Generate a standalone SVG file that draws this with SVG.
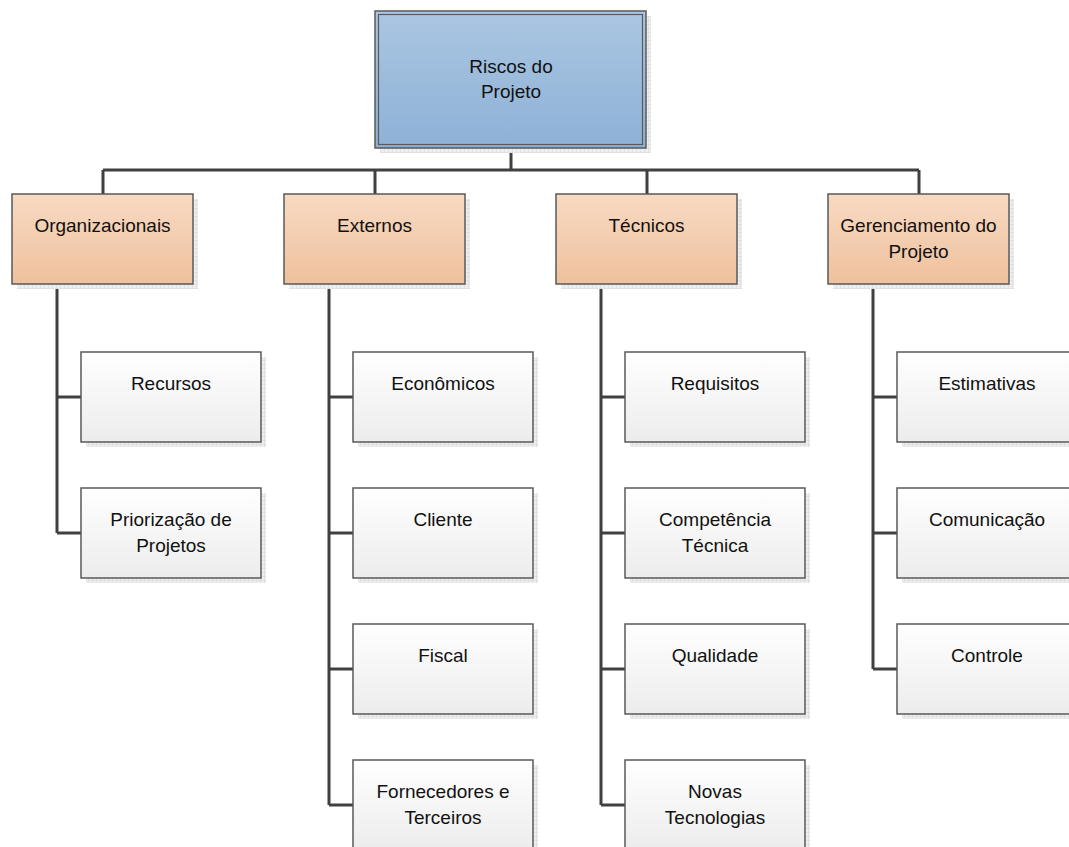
<svg xmlns="http://www.w3.org/2000/svg" width="1069" height="847" viewBox="0 0 1069 847">
<defs>
<linearGradient id="gBlue" x1="0" y1="0" x2="0" y2="1"><stop offset="0" stop-color="#abc6e2"/><stop offset="1" stop-color="#8db1d6"/></linearGradient>
<linearGradient id="gOrange" x1="0" y1="0" x2="0" y2="1"><stop offset="0" stop-color="#f8dac3"/><stop offset="1" stop-color="#efc19d"/></linearGradient>
<linearGradient id="gLeaf" x1="0" y1="0" x2="0" y2="1"><stop offset="0" stop-color="#ffffff"/><stop offset="1" stop-color="#ececec"/></linearGradient>
<pattern id="hatch" width="4" height="4" patternUnits="userSpaceOnUse"><rect width="4" height="4" fill="#eeeeee"/><path d="M0 0H4M0 0V4" stroke="#d6d6d6" stroke-width="1"/></pattern>
</defs>
<style>
.sh{fill:url(#hatch)}
.box{stroke:#5a5a5a;stroke-width:1.5}
.root{fill:url(#gBlue)}
.l1{fill:url(#gOrange)}
.leaf{fill:url(#gLeaf)}
.inner{fill:none;stroke:#5a5a5a;stroke-width:1.2}
text{font-family:"Liberation Sans",Arial,sans-serif;font-size:19px;fill:#111;text-anchor:middle}
.con{fill:none;stroke:#404040;stroke-width:3}
</style>
<g id="connectors" class="con">
<path d="M511 148V170M103 170H919M103 170V194M375 170V194M647 170V194M919 170V194"/>
<path d="M57 284V533M57 397H81M57 533H81"/>
<path d="M329 284V805M329 397H353M329 533H353M329 669H353M329 805H353"/>
<path d="M601 284V805M601 397H625M601 533H625M601 669H625M601 805H625"/>
<path d="M873 284V669M873 397H897M873 533H897M873 669H897"/>
</g>
<g id="root">
<rect class="sh" x="380" y="16" width="271" height="137"/>
<rect class="box root" x="375" y="11" width="271" height="137"/>
<rect class="inner" x="378.5" y="14.5" width="264" height="130"/>
<text x="511" y="73">Riscos do</text>
<text x="511" y="98">Projeto</text>
</g>
<g id="n-org">
<rect class="sh" x="17" y="199" width="181" height="90"/>
<rect class="box l1" x="12" y="194" width="181" height="90"/>
<text x="102.5" y="232">Organizacionais</text>
</g>
<g id="n-ext">
<rect class="sh" x="289" y="199" width="181" height="90"/>
<rect class="box l1" x="284" y="194" width="181" height="90"/>
<text x="374.5" y="232">Externos</text>
</g>
<g id="n-tec">
<rect class="sh" x="561" y="199" width="181" height="90"/>
<rect class="box l1" x="556" y="194" width="181" height="90"/>
<text x="646.5" y="232">Técnicos</text>
</g>
<g id="n-ger">
<rect class="sh" x="833" y="199" width="181" height="90"/>
<rect class="box l1" x="828" y="194" width="181" height="90"/>
<text x="918.5" y="232">Gerenciamento do</text>
<text x="918.5" y="258">Projeto</text>
</g>
<g id="n-recursos"><rect class="sh" x="86" y="357" width="180" height="90"/><rect class="box leaf" x="81" y="352" width="180" height="90"/><text x="171" y="390">Recursos</text></g>
<g id="n-priorizacao"><rect class="sh" x="86" y="493" width="180" height="90"/><rect class="box leaf" x="81" y="488" width="180" height="90"/><text x="171" y="526">Priorização de</text><text x="171" y="552">Projetos</text></g>
<g id="n-economicos"><rect class="sh" x="358" y="357" width="180" height="90"/><rect class="box leaf" x="353" y="352" width="180" height="90"/><text x="443" y="390">Econômicos</text></g>
<g id="n-cliente"><rect class="sh" x="358" y="493" width="180" height="90"/><rect class="box leaf" x="353" y="488" width="180" height="90"/><text x="443" y="526">Cliente</text></g>
<g id="n-fiscal"><rect class="sh" x="358" y="629" width="180" height="90"/><rect class="box leaf" x="353" y="624" width="180" height="90"/><text x="443" y="662">Fiscal</text></g>
<g id="n-fornecedores"><rect class="sh" x="358" y="765" width="180" height="90"/><rect class="box leaf" x="353" y="760" width="180" height="90"/><text x="443" y="798">Fornecedores e</text><text x="443" y="824">Terceiros</text></g>
<g id="n-requisitos"><rect class="sh" x="630" y="357" width="180" height="90"/><rect class="box leaf" x="625" y="352" width="180" height="90"/><text x="715" y="390">Requisitos</text></g>
<g id="n-competencia"><rect class="sh" x="630" y="493" width="180" height="90"/><rect class="box leaf" x="625" y="488" width="180" height="90"/><text x="715" y="526">Competência</text><text x="715" y="552">Técnica</text></g>
<g id="n-qualidade"><rect class="sh" x="630" y="629" width="180" height="90"/><rect class="box leaf" x="625" y="624" width="180" height="90"/><text x="715" y="662">Qualidade</text></g>
<g id="n-novas"><rect class="sh" x="630" y="765" width="180" height="90"/><rect class="box leaf" x="625" y="760" width="180" height="90"/><text x="715" y="798">Novas</text><text x="715" y="824">Tecnologias</text></g>
<g id="n-estimativas"><rect class="sh" x="902" y="357" width="180" height="90"/><rect class="box leaf" x="897" y="352" width="180" height="90"/><text x="987" y="390">Estimativas</text></g>
<g id="n-comunicacao"><rect class="sh" x="902" y="493" width="180" height="90"/><rect class="box leaf" x="897" y="488" width="180" height="90"/><text x="987" y="526">Comunicação</text></g>
<g id="n-controle"><rect class="sh" x="902" y="629" width="180" height="90"/><rect class="box leaf" x="897" y="624" width="180" height="90"/><text x="987" y="662">Controle</text></g>
</svg>
